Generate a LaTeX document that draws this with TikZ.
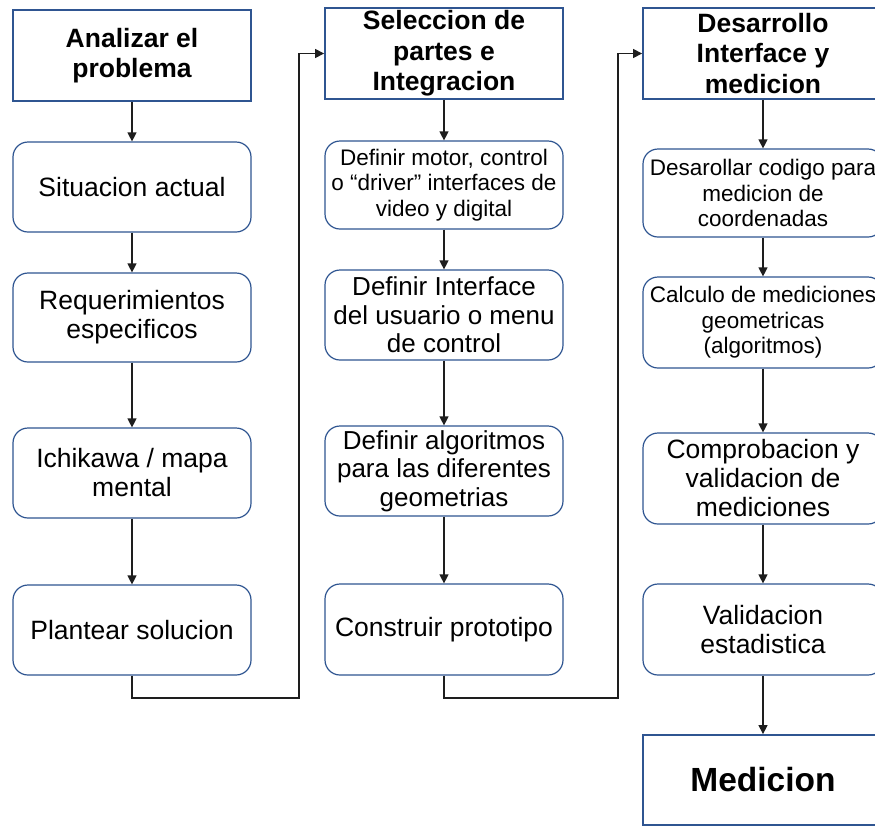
\documentclass[tikz,border=0pt]{standalone}
\usepackage{fontspec}
\setmainfont{Liberation Sans}
\usetikzlibrary{arrows.meta}
\definecolor{edgeblue}{HTML}{2F5591}
\definecolor{linegray}{HTML}{1E1E1E}
\tikzset{
  header/.style={draw=edgeblue, line width=1.8pt, fill=white, minimum width=238pt,
    minimum height=91pt, inner sep=0pt, align=center,
    font=\fontsize{26.5}{30.5}\selectfont\bfseries},
  stepbox/.style={draw=edgeblue, line width=1.2pt, fill=white, rounded corners=15pt,
    minimum width=238pt, minimum height=90pt, inner sep=0pt, align=center,
    font=\fontsize{26.5}{29}\selectfont},
  smallbox/.style={stepbox, font=\fontsize{22.5}{25.5}\selectfont},
  wide/.style={minimum width=240pt},
  arr/.style={draw=linegray, line width=1.2pt, -{Triangle[length=9pt,width=9pt]}},
}
\begin{document}
\begin{tikzpicture}[x=1pt,y=-1pt]
\useasboundingbox (0,0) rectangle (875,825);
\clip (0,0) rectangle (875,825);
\fill[white] (0,0) rectangle (875,825);

% Column 1: problem analysis
\node[header, minimum height=91pt] (h1) at (132,55.5) {Analizar el\\problema};
\node[stepbox] (s1) at (132,187) {Situacion actual};
\node[stepbox, minimum height=89pt] (s2) at (132,317.5) {Requerimientos\\especificos};
\node[stepbox] (s3) at (132,473) {Ichikawa / mapa\\mental};
\node[stepbox] (s4) at (132,630) {Plantear solucion};

% Column 2: parts selection and integration
\node[header] (h2) at (444,53.5) {Seleccion de\\partes e\\Integracion};
\node[smallbox, minimum height=88pt] (m1) at (444,185) {Definir motor, control\\o “driver” interfaces de\\video y digital};
\node[stepbox, font=\fontsize{26}{28.5}\selectfont] (m2) at (444,315) {Definir Interface\\del usuario o menu\\de control};
\node[stepbox, font=\fontsize{26}{28.5}\selectfont] (m3) at (444,471) {Definir algoritmos\\para las diferentes\\geometrias};
\node[stepbox, minimum height=91pt] (m4) at (444,629.5) {Construir prototipo};

% Column 3: interface development and measurement
\node[header, wide] (h3) at (763,53.5) {Desarrollo\\Interface y\\medicion};
\node[smallbox, wide, minimum height=88pt] (d1) at (763,193) {Desarollar codigo para\\medicion de\\coordenadas};
\node[smallbox, wide, minimum height=91pt] (d2) at (763,322.5) {Calculo de mediciones\\geometricas\\(algoritmos)};
\node[stepbox, wide, minimum height=91pt] (d3) at (763,478.5) {Comprobacion y\\validacion de\\mediciones};
\node[stepbox, wide, minimum height=91pt] (d4) at (763,629.5) {Validacion\\estadistica};
\node[header, wide, minimum height=90pt, font=\fontsize{33.5}{38}\selectfont\bfseries] (med) at (763,780) {Medicion};

% Turning points of the links between columns
\coordinate (c1) at (299,698);
\coordinate (c2) at (618,698);

% Links
\draw[arr] (h1) -- (s1);
\draw[arr] (s1) -- (s2);
\draw[arr] (s2) -- (s3);
\draw[arr] (s3) -- (s4);
\draw[arr] (s4.south) |- (c1) |- (h2.west);

\draw[arr] (h2) -- (m1);
\draw[arr] (m1) -- (m2);
\draw[arr] (m2) -- (m3);
\draw[arr] (m3) -- (m4);
\draw[arr] (m4.south) |- (c2) |- (h3.west);

\draw[arr] (h3) -- (d1);
\draw[arr] (d1) -- (d2);
\draw[arr] (d2) -- (d3);
\draw[arr] (d3) -- (d4);
\draw[arr] (d4) -- (med);
\end{tikzpicture}
\end{document}
